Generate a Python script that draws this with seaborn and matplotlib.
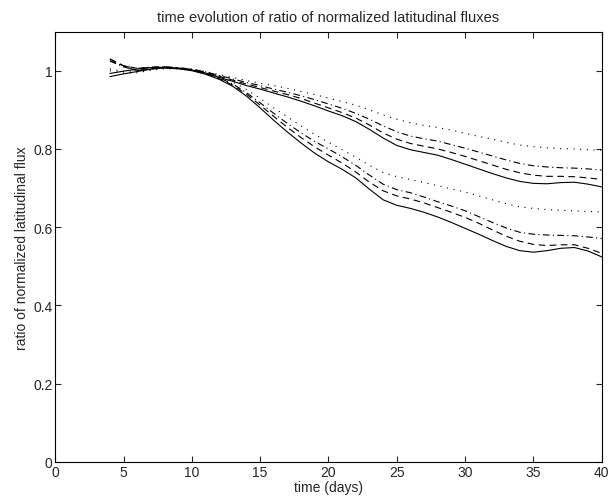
import matplotlib
matplotlib.use("Agg")
import matplotlib.pyplot as plt
import seaborn as sns
import pandas as pd

days = list(range(4, 41))

upper_solid = [0.993, 0.999, 1.004, 1.008, 1.009, 1.006, 1.002, 0.994, 0.983, 0.973,
               0.962, 0.953, 0.943, 0.933, 0.922, 0.910, 0.897, 0.885, 0.870, 0.850,
               0.828, 0.809, 0.798, 0.791, 0.784, 0.773, 0.761, 0.749, 0.737, 0.726,
               0.717, 0.712, 0.711, 0.714, 0.715, 0.710, 0.703]
upper_dashed = [1.030, 1.013, 1.006, 1.009, 1.010, 1.007, 1.003, 0.996, 0.986, 0.976,
                0.966, 0.957, 0.948, 0.939, 0.929, 0.917, 0.905, 0.893, 0.879, 0.861,
                0.841, 0.825, 0.814, 0.807, 0.800, 0.791, 0.781, 0.770, 0.759, 0.748,
                0.739, 0.733, 0.730, 0.730, 0.729, 0.726, 0.722]
upper_dashdot = [1.025, 1.012, 1.006, 1.009, 1.010, 1.008, 1.004, 0.997, 0.988, 0.979,
                 0.970, 0.962, 0.953, 0.945, 0.936, 0.926, 0.915, 0.904, 0.891, 0.876,
                 0.859, 0.844, 0.833, 0.826, 0.820, 0.811, 0.802, 0.792, 0.782, 0.772,
                 0.763, 0.757, 0.754, 0.752, 0.751, 0.749, 0.746]
upper_dotted = [1.005, 0.998, 1.000, 1.005, 1.008, 1.007, 1.004, 0.998, 0.990, 0.983,
                0.975, 0.968, 0.962, 0.955, 0.947, 0.939, 0.930, 0.921, 0.912, 0.900,
                0.887, 0.876, 0.867, 0.860, 0.855, 0.848, 0.840, 0.832, 0.825, 0.817,
                0.810, 0.806, 0.803, 0.801, 0.800, 0.798, 0.797]

lower_solid = [0.985, 0.992, 0.998, 1.004, 1.007, 1.005, 1.000, 0.991, 0.978, 0.960,
               0.935, 0.905, 0.873, 0.843, 0.815, 0.789, 0.767, 0.748, 0.726, 0.697,
               0.670, 0.656, 0.648, 0.638, 0.626, 0.612, 0.597, 0.582, 0.566, 0.551,
               0.540, 0.536, 0.540, 0.546, 0.548, 0.539, 0.524]
lower_dashed = [1.030, 1.012, 1.000, 1.005, 1.008, 1.006, 1.002, 0.993, 0.980, 0.963,
                0.940, 0.912, 0.883, 0.855, 0.829, 0.805, 0.784, 0.764, 0.741, 0.715,
                0.693, 0.680, 0.672, 0.662, 0.650, 0.638, 0.625, 0.610, 0.593, 0.577,
                0.564, 0.556, 0.553, 0.555, 0.555, 0.546, 0.533]
lower_dashdot = [1.025, 1.010, 1.000, 1.005, 1.008, 1.006, 1.003, 0.994, 0.982, 0.966,
                 0.944, 0.918, 0.891, 0.865, 0.841, 0.819, 0.800, 0.780, 0.758, 0.733,
                 0.710, 0.696, 0.688, 0.677, 0.665, 0.654, 0.642, 0.627, 0.612, 0.598,
                 0.587, 0.582, 0.580, 0.579, 0.578, 0.575, 0.571]
lower_dotted = [1.000, 0.994, 0.995, 1.001, 1.005, 1.005, 1.003, 0.996, 0.985, 0.971,
                0.952, 0.929, 0.905, 0.882, 0.859, 0.837, 0.817, 0.798, 0.779, 0.758,
                0.740, 0.729, 0.722, 0.714, 0.706, 0.698, 0.690, 0.680, 0.670, 0.660,
                0.652, 0.648, 0.645, 0.643, 0.642, 0.640, 0.639]

SOLID = "-"
DASHED = (0, (6, 4))
DASHDOT = (0, (6, 3, 1, 3))
DOTTED = (0, (1, 5))

series = [
    (upper_solid, SOLID), (upper_dashed, DASHED), (upper_dashdot, DASHDOT), (upper_dotted, DOTTED),
    (lower_solid, SOLID), (lower_dashed, DASHED), (lower_dashdot, DASHDOT), (lower_dotted, DOTTED),
]

sns.set_style("ticks")
plt.rcParams["font.family"] = ["Liberation Sans", "DejaVu Sans"]

fig = plt.figure(figsize=(6.14, 5.02), dpi=100)
ax = fig.add_axes([0.09, 0.078, 0.89, 0.857])

for vals, ls in series:
    df = pd.DataFrame({"t": days, "r": vals})
    sns.lineplot(data=df, x="t", y="r", ax=ax, color="black", linewidth=0.8, linestyle=ls)

ax.set_xlim(0, 40)
ax.set_ylim(0, 1.1)
ax.set_xticks([0, 5, 10, 15, 20, 25, 30, 35, 40])
ax.set_yticks([0, 0.2, 0.4, 0.6, 0.8, 1.0])
ax.set_yticklabels(["0", "0.2", "0.4", "0.6", "0.8", "1"])
ax.tick_params(direction="in", top=True, right=True, labelsize=10, length=4, width=0.8, pad=2)
for s in ax.spines.values():
    s.set_linewidth(0.8)
    s.set_color("black")
ax.set_xlabel("time (days)", fontsize=10, labelpad=1)
ax.set_ylabel("ratio of normalized latitudinal flux", fontsize=10, labelpad=3)
ax.set_title("time evolution of ratio of normalized latitudinal fluxes", fontsize=10.5, pad=8)

fig.savefig("out.png", dpi=100)
